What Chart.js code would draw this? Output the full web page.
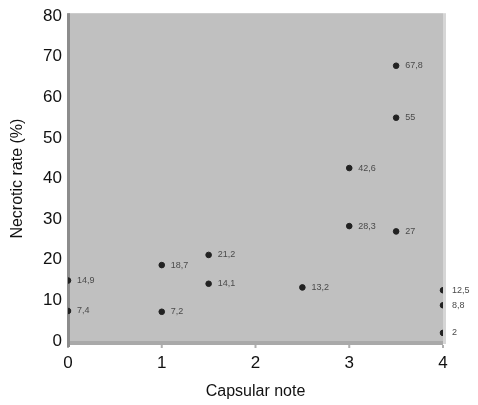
<!DOCTYPE html>
<html>
<head>
<meta charset="utf-8">
<script src="https://cdn.jsdelivr.net/npm/chart.js@4.4.0/dist/chart.umd.min.js"></script>
<style>
  html, body { margin: 0; padding: 0; background: #fff; }
  #wrap { width: 478px; height: 405px; }
</style>
</head>
<body>
<div id="wrap"><canvas id="necroChart" width="478" height="405"></canvas></div>
<script>
// capsular note (x) vs necrotic rate (y)
const capsNotes = [0, 0, 1, 1, 1.5, 1.5, 2.5, 3, 3, 3.5, 3.5, 3.5, 4, 4, 4];
const necroRates = [14.9, 7.4, 18.7, 7.2, 21.2, 14.1, 13.2, 42.6, 28.3, 67.8, 55, 27, 12.5, 8.8, 2];
const pointLabels = ["14,9", "7,4", "18,7", "7,2", "21,2", "14,1", "13,2", "42,6", "28,3", "67,8", "55", "27", "12,5", "8,8", "2"];

const xTicks = [0, 1, 2, 3, 4];
const yTicks = [0, 10, 20, 30, 40, 50, 60, 70, 80];

const points = capsNotes.map((x, i) => ({ x: x, y: necroRates[i] }));

// grey plot background + axis bands
const plotBg = {
  id: 'plotBg',
  beforeDraw(chart) {
    const { ctx, chartArea: a } = chart;
    const xs = chart.scales.x;
    ctx.save();
    ctx.fillStyle = '#c0c0c0';
    ctx.fillRect(a.left, a.top - 3, a.right - a.left, a.bottom - a.top + 3);
    // right shadow
    ctx.fillStyle = '#d6d6d6';
    ctx.fillRect(a.right, a.top - 3, 3, a.bottom - a.top + 6);
    // bottom band
    ctx.fillStyle = '#a9a9a9';
    ctx.fillRect(a.left, a.bottom, a.right - a.left, 4);
    // small x tick marks
    ctx.fillStyle = '#b0b0b0';
    xTicks.forEach(v => {
      ctx.fillRect(xs.getPixelForValue(v) - 1, a.bottom + 4, 2, 3);
    });
    // left axis line
    ctx.fillStyle = '#8c8c8c';
    ctx.fillRect(a.left - 1, a.top - 3, 3, a.bottom - a.top + 9);
    ctx.restore();
  }
};

// little value labels next to each point
const valueLabels = {
  id: 'valueLabels',
  afterDatasetsDraw(chart) {
    const { ctx } = chart;
    const meta = chart.getDatasetMeta(0);
    ctx.save();
    ctx.font = '9px "Liberation Sans", Arial, sans-serif';
    ctx.fillStyle = '#4a4a4a';
    ctx.textBaseline = 'middle';
    ctx.textAlign = 'left';
    meta.data.forEach((el, i) => {
      ctx.fillText(pointLabels[i], el.x + 9, el.y);
    });
    ctx.restore();
  }
};

const ctx = document.getElementById("necroChart").getContext("2d");
new Chart(ctx, {
  type: 'scatter',
  data: {
    datasets: [{
      data: points,
      pointStyle: 'circle',
      pointRadius: 2.8,
      backgroundColor: '#222',
      borderColor: '#222',
      borderWidth: 1
    }]
  },
  options: {
    responsive: false,
    animation: false,
    layout: { padding: { top: 16, right: 35, left: 0, bottom: 0 } },
    plugins: {
      legend: { display: false },
      tooltip: { enabled: false }
    },
    scales: {
      x: {
        min: 0,
        max: 4,
        afterBuildTicks: s => { s.ticks = xTicks.map(v => ({ value: v })); },
        afterFit: s => { s.height = 64; },
        grid: { display: false, drawTicks: false },
        border: { display: false },
        ticks: {
          padding: 12,
          color: '#111',
          font: { family: '"Liberation Sans", Arial, sans-serif', size: 17 }
        },
        title: {
          display: true,
          text: 'Capsular note',
          color: '#111',
          padding: { top: 9 },
          font: { family: '"Liberation Sans", Arial, sans-serif', size: 16 }
        }
      },
      y: {
        min: 0,
        max: 80,
        afterBuildTicks: s => { s.ticks = yTicks.map(v => ({ value: v })); },
        afterFit: s => { s.width = 68; },
        grid: { display: false, drawTicks: false },
        border: { display: false },
        ticks: {
          padding: 6,
          color: '#111',
          font: { family: '"Liberation Sans", Arial, sans-serif', size: 17 }
        },
        title: {
          display: true,
          text: 'Necrotic rate (%)',
          color: '#111',
          padding: { top: 8, bottom: 0 },
          font: { family: '"Liberation Sans", Arial, sans-serif', size: 16 }
        }
      }
    }
  },
  plugins: [plotBg, valueLabels]
});
</script>
</body>
</html>
